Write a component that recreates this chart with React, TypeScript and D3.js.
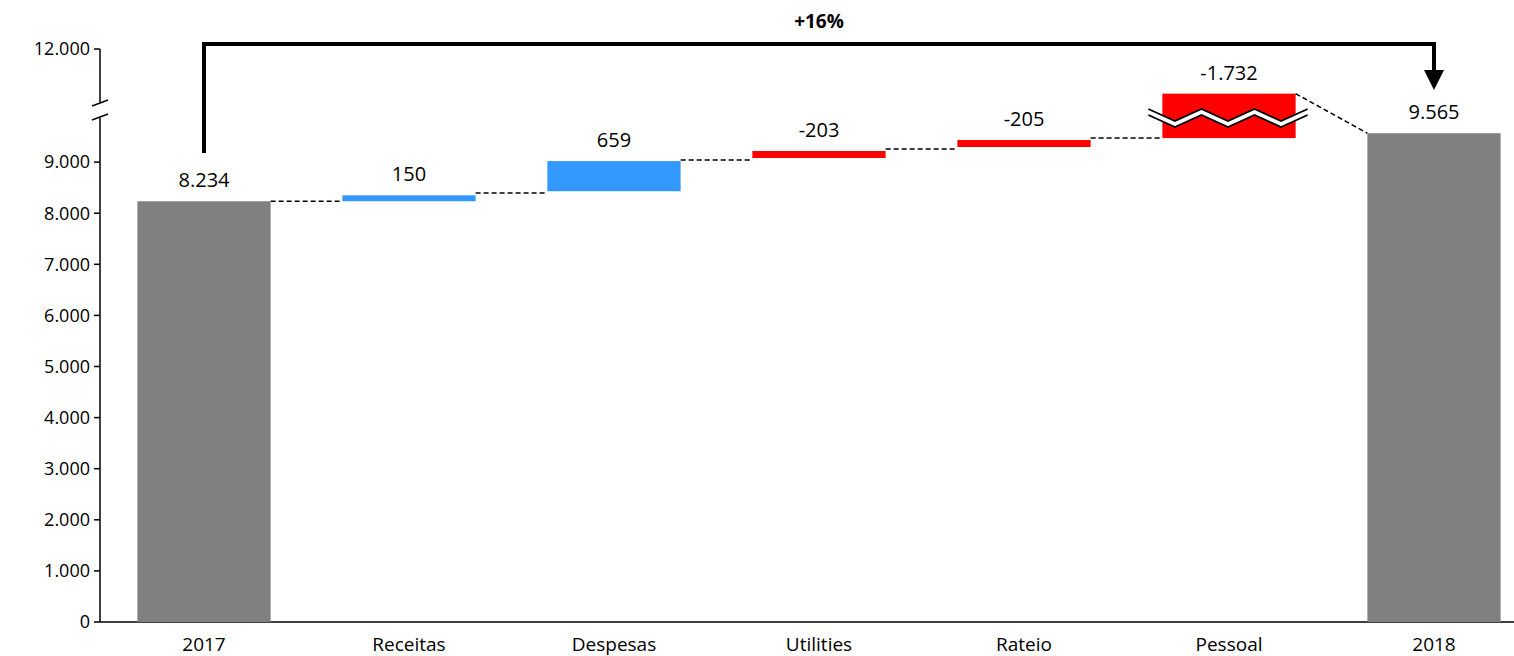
import * as d3 from "d3";

const categories = ["2017", "Receitas", "Despesas", "Utilities", "Rateio", "Pessoal", "2018"];
const barStart = [0, 8234, 8430, 9080, 9295, 9470, 0];
const barEnd = [8234, 8350, 9020, 9217, 9432, 10560, 9565];
const labels = ["8.234", "150", "659", "-203", "-205", "-1.732", "9.565"];
const kinds = ["total", "up", "up", "down", "down", "down", "total"];
const connectorLevels = [8234, 8395, 9041, 9256, 9472];
const yTicks = [0, 1000, 2000, 3000, 4000, 5000, 6000, 7000, 8000, 9000, 12000];
const fmt = (v: number) => d3.format(",")(v).replace(/,/g, ".");

const colors: Record<string, string> = { total: "#808080", up: "#3399ff", down: "#ff0000" };

export default function App() {
  const W = 1514, H = 656;
  const x = d3.scaleBand().domain(categories).range([101.5, 1536.5]).paddingInner(0.35).paddingOuter(0.175);
  const y = d3.scaleLinear().domain([0, 10000, 12000]).range([622, 111, 49]);
  const bw = x.bandwidth();
  const cx = (c: string) => (x(c) ?? 0) + bw / 2;
  const font = "'Open Sans', sans-serif";

  // zigzag break across Pessoal bar
  const pX0 = (x("Pessoal") ?? 0) - 14, pX1 = (x("Pessoal") ?? 0) + bw + 12;
  const zigPts = (off: number) => {
    const pts: [number, number][] = [];
    const n = 6;
    for (let i = 0; i <= n; i++) pts.push([pX0 + ((pX1 - pX0) * i) / n, 118 + off + (i % 2 ? 6 : -6)]);
    return pts;
  };
  const line = d3.line();
  const top = zigPts(-3), bot = zigPts(3);
  const band = line([...top, ...bot.reverse()]) + "Z";

  return (
    <svg width={W} height={H} style={{ position: "absolute", left: 0, top: 0 }} fontFamily={font}>
      <rect width={W} height={H} fill="#fff" />
      {/* axis */}
      <line x1={100} x2={100} y1={49} y2={102} stroke="#000" strokeWidth={1.5} />
      <line x1={100} x2={100} y1={118} y2={622} stroke="#000" strokeWidth={1.5} />
      <line x1={92} x2={108} y1={106} y2={100} stroke="#000" strokeWidth={1.5} />
      <line x1={92} x2={108} y1={120} y2={114} stroke="#000" strokeWidth={1.5} />
      <line x1={100} x2={1514} y1={622} y2={622} stroke="#000" strokeWidth={1.5} />
      {yTicks.map(t => (
        <g key={t}>
          <line x1={94} x2={100} y1={y(t)} y2={y(t)} stroke="#000" strokeWidth={1.5} />
          <text x={90} y={y(t)} dy="0.35em" textAnchor="end" fontSize={18}>{fmt(t)}</text>
        </g>
      ))}
      {categories.map(c => (
        <text key={c} x={cx(c)} y={651} textAnchor="middle" fontSize={19}>{c}</text>
      ))}
      {/* connectors */}
      {connectorLevels.map((v, i) => (
        <line key={i} x1={(x(categories[i]) ?? 0) + bw} x2={x(categories[i + 1]) ?? 0}
          y1={y(v)} y2={y(v)} stroke="#000" strokeWidth={1.5} strokeDasharray="5,3" />
      ))}
      <line x1={(x("Pessoal") ?? 0) + bw} y1={y(barEnd[5])} x2={x("2018") ?? 0} y2={y(barEnd[6])}
        stroke="#000" strokeWidth={1.5} strokeDasharray="5,3" />
      {/* bars */}
      {categories.map((c, i) => {
        const t = y(Math.max(barStart[i], barEnd[i]));
        const b = y(Math.min(barStart[i], barEnd[i]));
        return (
          <g key={c}>
            <rect x={x(c)} y={t} width={bw} height={b - t} fill={colors[kinds[i]]} />
            <text x={cx(c)} y={t - 14} textAnchor="middle" fontSize={20}>{labels[i]}</text>
          </g>
        );
      })}
      {/* break on Pessoal */}
      <path d={band} fill="#fff" />
      <path d={line(zigPts(-3)) ?? ""} fill="none" stroke="#000" strokeWidth={1.8} />
      <path d={line(zigPts(3)) ?? ""} fill="none" stroke="#000" strokeWidth={1.8} />
      {/* bracket */}
      <path d={`M${cx("2017")},${153}V44H${cx("2018")}V72`} fill="none" stroke="#000" strokeWidth={4} />
      <path d={`M${cx("2018") - 10},70L${cx("2018") + 10},70L${cx("2018")},90Z`} fill="#000" />
      <text x={(cx("2017") + cx("2018")) / 2} y={28} textAnchor="middle" fontSize={19} fontWeight="bold">+16%</text>
    </svg>
  );
}
